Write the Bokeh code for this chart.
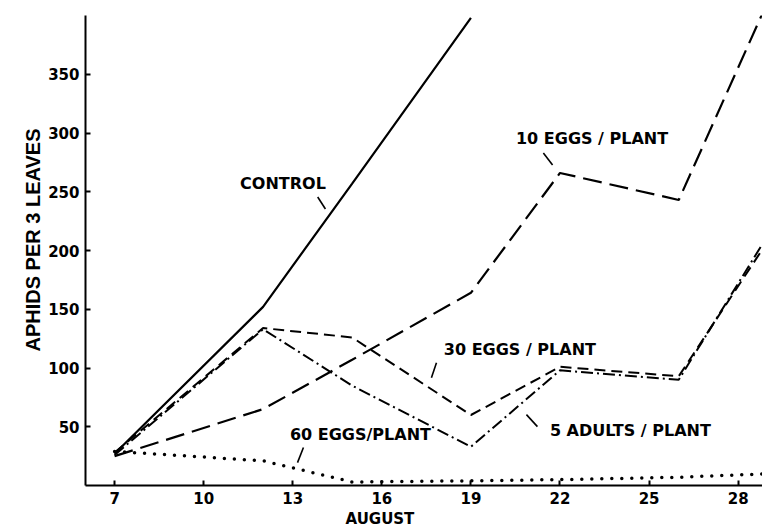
from bokeh.plotting import figure
from bokeh.models import Range1d, FixedTicker, Label, Title
from bokeh.embed import file_html
from bokeh.resources import INLINE

# ---- data ----
dates = [7, 12, 15, 19, 22, 26, 29]
control_dates = [7, 12, 15, 19]
control = [27, 152, 257, 398]
eggs10 = [25, 65, 107, 164, 266, 243, 412]
eggs30 = [28, 134, 126, 60, 101, 93, 208]
adults5 = [26, 133, 85, 33, 98, 90, 213]
eggs60 = [29, 21, 3, 4, 5, 7, 10]

x_ticks = [7, 10, 13, 16, 19, 22, 25, 28]
y_ticks = [50, 100, 150, 200, 250, 300, 350]

# annotation labels: text, centre x, centre y
label_texts = ["CONTROL", "10 EGGS / PLANT", "30 EGGS / PLANT", "5 ADULTS / PLANT", "60 EGGS/PLANT"]
label_x = [12.67, 23.08, 20.65, 24.37, 15.28]
label_y = [257.4, 295.7, 115.5, 46.7, 43.3]
# leader lines
lead_x0 = [13.84, 21.44, 17.84, 20.87, 13.36]
lead_y0 = [245.5, 283.0, 104.5, 60.3, 32.3]
lead_x1 = [14.10, 21.75, 17.67, 21.24, 13.16]
lead_y1 = [235.3, 272.7, 91.8, 50.1, 19.5]

FONT = "DejaVu Sans"

p = figure(width=762, height=528, output_backend="svg", toolbar_location=None,
           x_range=Range1d(6.02, 28.82), y_range=Range1d(0, 400),
           min_border_left=85, min_border_right=0, min_border_top=15, min_border_bottom=42)
p.outline_line_color = None
p.xgrid.visible = False
p.ygrid.visible = False
p.background_fill_color = "white"
p.border_fill_color = "white"

for ax in (p.xaxis[0], p.yaxis[0]):
    ax.axis_line_width = 2
    ax.axis_line_color = "black"
    ax.major_tick_line_width = 2
    ax.major_tick_in = 5
    ax.major_tick_out = 0
    ax.minor_tick_line_color = None
    ax.major_label_text_font = FONT
    ax.major_label_text_font_style = "bold"
    ax.major_label_text_font_size = "15px"
    ax.major_label_text_color = "black"
    ax.major_label_standoff = 6

p.xaxis.ticker = FixedTicker(ticks=x_ticks)
p.yaxis.ticker = FixedTicker(ticks=y_ticks)

# series
p.line(control_dates, control, line_color="black", line_width=2.2)
p.line(dates, eggs10, line_color="black", line_width=2.2, line_dash="19 8")
p.line(dates, eggs30, line_color="black", line_width=2, line_dash="11 6")
p.line(dates, adults5, line_color="black", line_width=2, line_dash="12 4 2 4")
p.line(dates, eggs60, line_color="black", line_width=3.5, line_dash="0 10", line_cap="round")

# leaders
p.segment(lead_x0, lead_y0, lead_x1, lead_y1, line_color="black", line_width=1.6)

for t, x, y in zip(label_texts, label_x, label_y):
    p.add_layout(Label(x=x, y=y, text=t, text_font=FONT, text_font_style="bold",
                       text_font_size="16px", text_align="center", text_baseline="middle",
                       text_color="black"))

# axis titles
p.add_layout(Title(text="AUGUST", align="left", offset=260, standoff=2,
                   text_font=FONT, text_font_style="bold", text_font_size="15px",
                   text_color="black"), "below")
p.add_layout(Title(text="APHIDS  PER 3 LEAVES", align="left", offset=134, standoff=4,
                   text_font="Liberation Sans", text_font_style="bold", text_font_size="20px",
                   text_color="black"), "left")

open("out.html", "w").write(file_html(p, INLINE))
